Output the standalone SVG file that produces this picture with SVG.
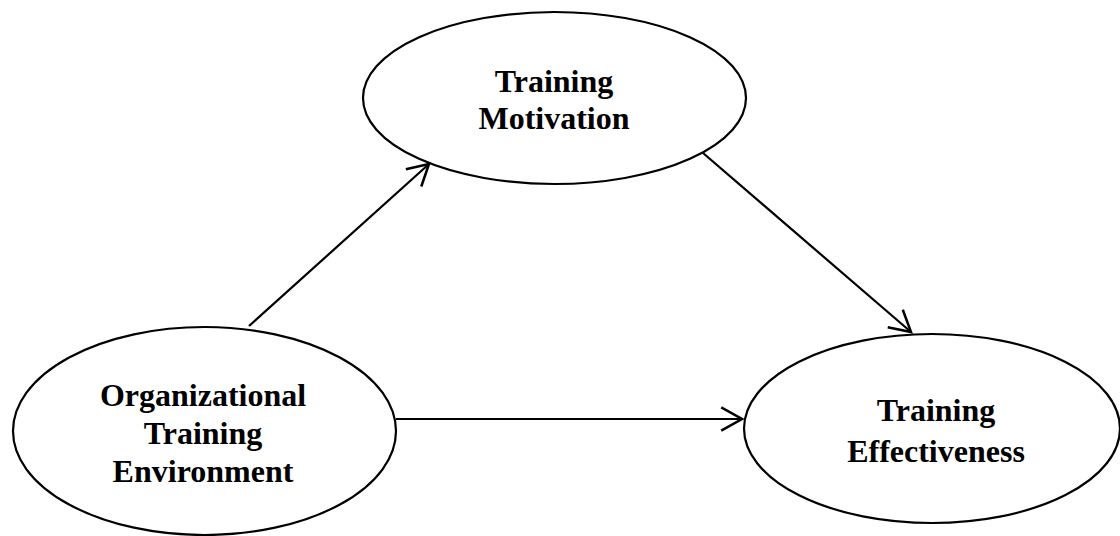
<svg xmlns="http://www.w3.org/2000/svg" width="1120" height="536" viewBox="0 0 1120 536">
<style>
.node ellipse{fill:#fff;stroke:#000;stroke-width:2.2}
.node text{font-family:"Liberation Serif","Times New Roman",serif;font-weight:bold;font-size:32px;fill:#000;text-anchor:middle}
.conn line{stroke:#000;stroke-width:2.2;marker-end:url(#arr)}
</style>
<defs>
<marker id="arr" markerUnits="userSpaceOnUse" markerWidth="30" markerHeight="30" viewBox="-22 -13 26 26" refX="0" refY="0" orient="auto">
<path d="M-18,-10 L0,0 L-18,10" fill="none" stroke="#000" stroke-width="2.2"/>
</marker>
</defs>
<rect width="1120" height="536" fill="#fff"/>
<g id="motivation" class="node">
<ellipse cx="554.5" cy="98" rx="191.5" ry="86"/>
<text x="554" y="92">Training</text>
<text x="554" y="129">Motivation</text>
</g>
<g id="environment" class="node">
<ellipse cx="204.5" cy="431" rx="191.5" ry="104"/>
<text x="203" y="406">Organizational</text>
<text x="203" y="444">Training</text>
<text x="203" y="482">Environment</text>
</g>
<g id="effectiveness" class="node">
<ellipse cx="932" cy="428.5" rx="188" ry="94.5"/>
<text x="936" y="421">Training</text>
<text x="936" y="462">Effectiveness</text>
</g>
<g id="connectors" class="conn">
<line x1="249" y1="326" x2="429" y2="164"/>
<line x1="703" y1="153" x2="911" y2="332"/>
<line x1="396" y1="419" x2="742" y2="419"/>
</g>
</svg>
